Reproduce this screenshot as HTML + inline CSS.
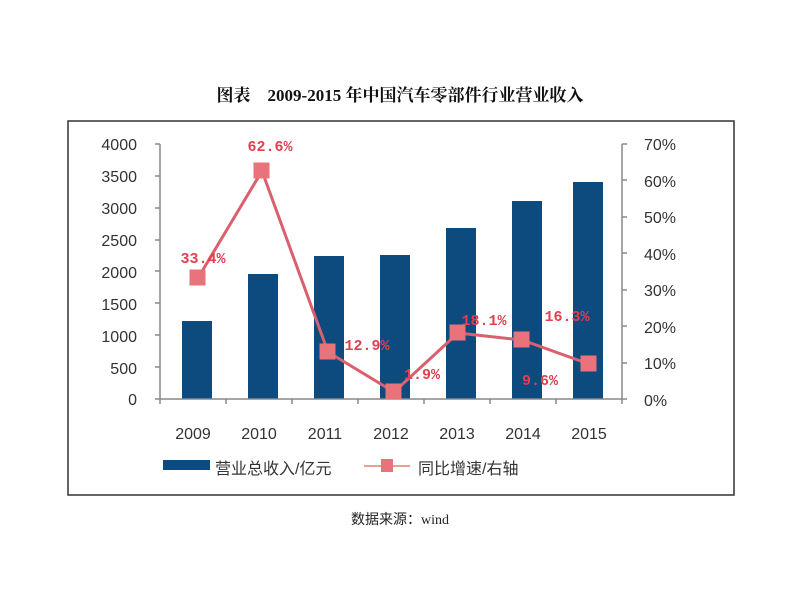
<!DOCTYPE html>
<html><head><meta charset="utf-8"><style>
body{margin:0;background:#fff;}
svg{display:block;}
</style></head><body>
<svg width="800" height="600" xmlns="http://www.w3.org/2000/svg">
<rect width="800" height="600" fill="#fff"/>
<text x="400" y="101" text-anchor="middle" font-family="Liberation Serif, Noto Serif CJK SC, serif" font-weight="bold" font-size="17" fill="#111">图表　2009-2015 年中国汽车零部件行业营业收入</text>
<rect x="68" y="121" width="666" height="374" fill="none" stroke="#333" stroke-width="1.5"/>
<g font-family="Liberation Sans, sans-serif" font-size="16" fill="#333">
<g text-anchor="end">
<text x="137" y="405">0</text><text x="137" y="374">500</text><text x="137" y="342">1000</text><text x="137" y="310">1500</text><text x="137" y="278">2000</text><text x="137" y="246">2500</text><text x="137" y="214">3000</text><text x="137" y="182">3500</text><text x="137" y="150">4000</text>
</g>
<text x="644" y="406">0%</text><text x="644" y="369">10%</text><text x="644" y="333">20%</text><text x="644" y="296">30%</text><text x="644" y="260">40%</text><text x="644" y="223">50%</text><text x="644" y="187">60%</text><text x="644" y="150">70%</text>
<g text-anchor="middle">
<text x="193" y="439">2009</text><text x="259" y="439">2010</text><text x="325" y="439">2011</text><text x="391" y="439">2012</text><text x="457" y="439">2013</text><text x="523" y="439">2014</text><text x="589" y="439">2015</text>
</g>
</g>
<g fill="#0d4a7e">
<rect x="182" y="321" width="30" height="78"/>
<rect x="248" y="274" width="30" height="125"/>
<rect x="314" y="256" width="30" height="143"/>
<rect x="380" y="255" width="30" height="144"/>
<rect x="446" y="228" width="30" height="171"/>
<rect x="512" y="201" width="30" height="198"/>
<rect x="573" y="182" width="30" height="217"/>
</g>
<g stroke="#888" stroke-width="1.5" fill="none">
<path d="M160 144 V399 H622 V144"/>
<path d="M155 144H160M155 176H160M155 208H160M155 240H160M155 271H160M155 303H160M155 335H160M155 367H160M155 399H160"/>
<path d="M622 144H627M622 180H627M622 217H627M622 253H627M622 290H627M622 326H627M622 363H627M622 399H627"/>
<path d="M160 399v5M226 399v5M292 399v5M358 399v5M424 399v5M490 399v5M556 399v5M622 399v5"/>
</g>
<polyline points="198,278 262,171 328,352 394,392 458,333 522,340 589,364" fill="none" stroke="#d9606e" stroke-width="3"/>
<g fill="#e8737a" stroke="#e8737a">
<rect x="190" y="270" width="15" height="15"/><rect x="254" y="163" width="15" height="15"/><rect x="320" y="344" width="15" height="15"/><rect x="386" y="384" width="15" height="15"/><rect x="450" y="325" width="15" height="15"/><rect x="514" y="332" width="15" height="15"/><rect x="581" y="356" width="15" height="15"/>
</g>
<g font-family="Liberation Mono, monospace" font-size="15" font-weight="bold" fill="#e0404f" text-anchor="middle">
<text x="203" y="263">33.4%</text><text x="270" y="151">62.6%</text><text x="367" y="350">12.9%</text><text x="422" y="379">1.9%</text><text x="484" y="325">18.1%</text><text x="567" y="321">16.3%</text><text x="540" y="385">9.6%</text>
</g>
<rect x="163" y="460" width="47" height="10" fill="#0d4a7e"/>
<line x1="364" y1="466" x2="410" y2="466" stroke="#e8a090" stroke-width="2"/>
<rect x="381" y="459" width="12" height="13" fill="#e8737a"/>
<g font-family="Liberation Sans, Noto Sans CJK SC, sans-serif" font-size="16" fill="#333">
<text x="215" y="474">营业总收入/亿元</text>
<text x="418" y="474">同比增速/右轴</text>
</g>
<text x="400" y="524" text-anchor="middle" font-family="Liberation Serif, Noto Sans CJK SC, serif" font-size="14" fill="#222">数据来源：wind</text>
</svg>
</body></html>
